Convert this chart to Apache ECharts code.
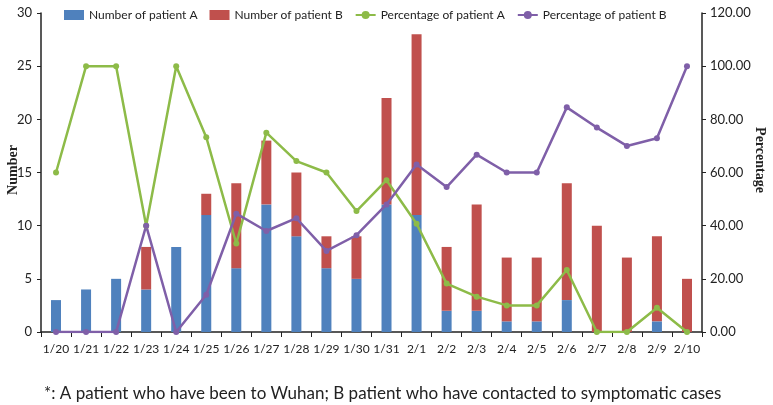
<!DOCTYPE html>
<html><head><meta charset="utf-8">
<script src="https://cdn.jsdelivr.net/npm/echarts@6/dist/echarts.min.js"></script>
<style>html,body{margin:0;padding:0;background:#fff;}#c{width:773px;height:405px;}</style>
</head><body><div id="c"></div>
<script>
const categories = ['1/20','1/21','1/22','1/23','1/24','1/25','1/26','1/27','1/28','1/29','1/30','1/31','2/1','2/2','2/3','2/4','2/5','2/6','2/7','2/8','2/9','2/10'];
const numberA = [3,4,5,4,8,11,6,12,9,6,5,12,11,2,2,1,1,3,0,0,1,0];
const numberB = [0,0,0,4,0,2,8,6,6,3,4,10,17,6,10,6,6,11,10,7,8,5];
const percentA = [60,100,100,40,100,73.3,33.3,75,64.3,60,45.5,57.1,40.7,18.2,13.3,10,10,23.3,0,0,9.1,0];
const percentB = [0,0,0,40,0,14,44.5,38,42.8,30.5,36.4,48,63,54.5,66.7,60,60,84.5,76.9,70,72.9,100];
const leftTicks = [0,5,10,15,20,25,30];
const rightTicks = [0,20,40,60,80,100,120];

const sans = "Lato,'Open Sans',sans-serif";
const serifFont = "bold 14px 'Liberation Serif','DejaVu Serif',serif";
const chart = echarts.init(document.getElementById('c'), null, {renderer:'canvas'});
chart.setOption({
  animation:false,
  backgroundColor:'#fff',
  grid:{left:41,right:71,top:13,bottom:73,containLabel:false,outerBoundsMode:'none'},
  legend:{
    top:4,left:59,itemGap:12,itemWidth:20,itemHeight:10,
    textStyle:{fontFamily:sans,fontSize:12,color:'#222'},
    data:[
      {name:'Number of patient A',icon:'rect'},
      {name:'Number of patient B',icon:'rect'},
      {name:'Percentage of patient A'},
      {name:'Percentage of patient B'}
    ]
  },
  xAxis:{
    type:'category',data:categories,boundaryGap:true,
    axisLine:{lineStyle:{color:'#222',width:1.5}},
    axisTick:{show:true,alignWithLabel:false,length:5,lineStyle:{color:'#222'}},
    axisLabel:{fontFamily:sans,fontSize:12,color:'#222',margin:11,interval:0}
  },
  yAxis:[
    {type:'value',min:leftTicks[0],max:leftTicks[leftTicks.length-1],interval:5,
     axisLine:{show:true,lineStyle:{color:'#222',width:1.5}},
     axisTick:{show:true,length:4,lineStyle:{color:'#222'}},
     axisLabel:{fontFamily:sans,fontSize:13,color:'#222',margin:9},
     splitLine:{show:false}},
    {type:'value',min:rightTicks[0],max:rightTicks[rightTicks.length-1],interval:20,
     axisLine:{show:true,lineStyle:{color:'#222',width:1.5}},
     axisTick:{show:true,length:4,lineStyle:{color:'#222'}},
     axisLabel:{fontFamily:sans,fontSize:13,color:'#222',margin:8,formatter:v=>v.toFixed(2)},
     splitLine:{show:false}}
  ],
  series:[
    {name:'Number of patient A',type:'bar',stack:'n',data:numberA,barWidth:10,itemStyle:{color:'#4F81BD'}},
    {name:'Number of patient B',type:'bar',stack:'n',data:numberB,barWidth:10,itemStyle:{color:'#C0504D'}},
    {name:'Percentage of patient A',type:'line',yAxisIndex:1,data:percentA,symbol:'circle',symbolSize:6,
     lineStyle:{color:'#8DBB48',width:2.5},itemStyle:{color:'#8DBB48'}},
    {name:'Percentage of patient B',type:'line',yAxisIndex:1,data:percentB,symbol:'circle',symbolSize:6,
     lineStyle:{color:'#7F5FA8',width:2.5},itemStyle:{color:'#7F5FA8'}}
  ],
  graphic:[
    {type:'text',x:13,y:170,rotation:Math.PI/2,
     style:{text:'Number',font:serifFont,fill:'#222',align:'center',verticalAlign:'middle'}},
    {type:'text',x:760,y:160,rotation:-Math.PI/2,
     style:{text:'Percentage',font:serifFont,fill:'#222',align:'center',verticalAlign:'middle'}},
    {type:'text',left:44,top:385,
     style:{text:'*: A patient who have been to Wuhan; B patient who have contacted to symptomatic cases',
      font:"17px Lato,'Open Sans',sans-serif",fill:'#222'}}
  ]
});
</script></body></html>
